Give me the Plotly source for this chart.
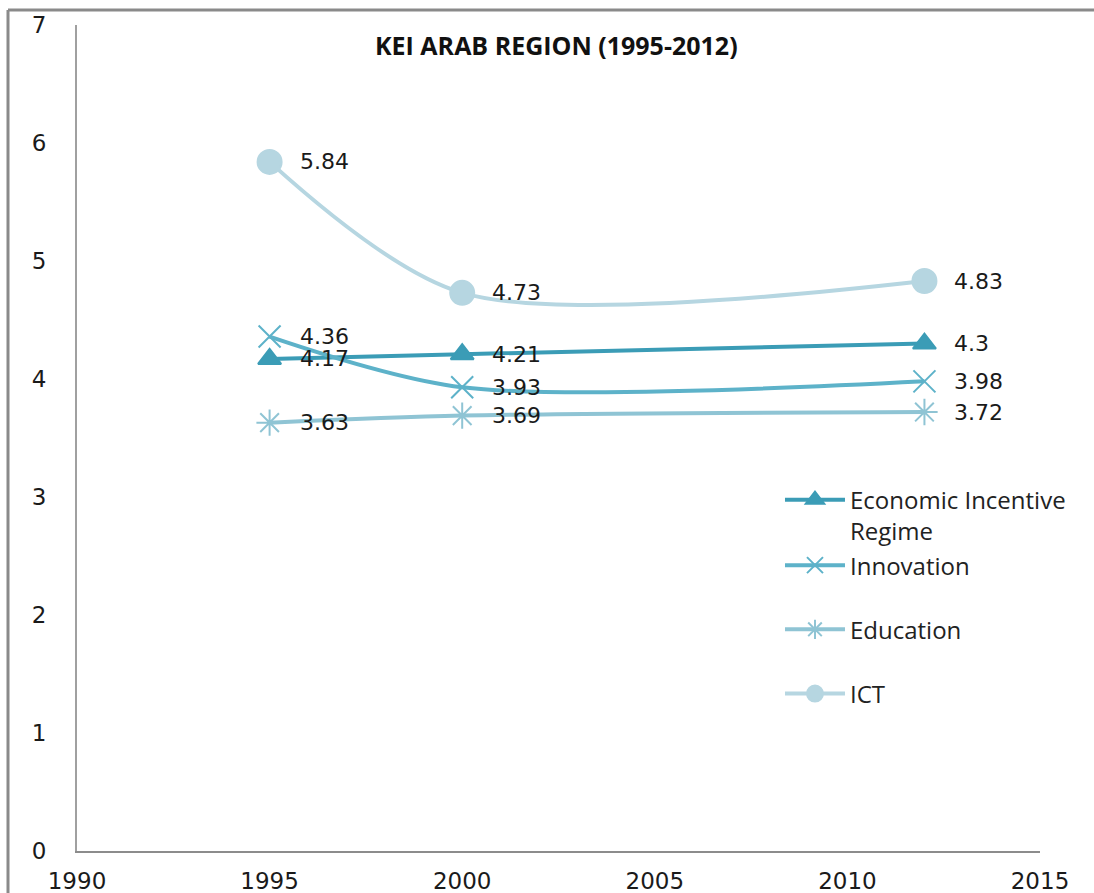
import plotly.graph_objects as go

# KEI sub-index scores for the Arab region
years = [1995, 2000, 2012]
economic_incentive = [4.17, 4.21, 4.30]
innovation = [4.36, 3.93, 3.98]
education = [3.63, 3.69, 3.72]
ict = [5.84, 4.73, 4.83]

series_names = ["Economic Incentive<br>Regime", "Innovation", "Education", "ICT"]
series_values = [economic_incentive, innovation, education, ict]
colors = ["#3b9cb6", "#5db2c9", "#8fc4d4", "#b6d6e1"]
symbols = ["triangle-up", "x-thin-open", "asterisk-open", "circle"]
marker_sizes = [20, 22, 22, 24]
legend_groups = ["a", "a", "b", "c"]

x_ticks = [1990, 1995, 2000, 2005, 2010, 2015]
y_ticks = [0, 1, 2, 3, 4, 5, 6, 7]

fig = go.Figure()
for i, (name, vals) in enumerate(zip(series_names, series_values)):
    fig.add_trace(go.Scatter(
        x=years, y=vals, name=name, mode="lines+markers",
        line=dict(color=colors[i], width=4, shape="spline", smoothing=0.85),
        marker=dict(symbol=symbols[i], size=marker_sizes[i], color=colors[i],
                    line=dict(color=colors[i], width=2)),
        legendgroup=legend_groups[i],
    ))

# value labels to the right of each point
annotations = []
for vals in series_values:
    for x, v in zip(years, vals):
        annotations.append(dict(
            x=x, y=v, xref="x", yref="y", text=f"{v:g}", showarrow=False,
            xanchor="left", yanchor="middle", xshift=28,
            font=dict(family="DejaVu Sans", size=22, color="#1a1a1a"),
        ))

annotations.append(dict(
    x=0.498, y=(851 - 45) / 826, xref="paper", yref="paper",
    text="<b>KEI ARAB REGION (1995-2012)</b>",
    showarrow=False, xanchor="center", yanchor="middle",
    font=dict(family="Open Sans", size=25, color="#111111"),
))

fig.update_layout(
    width=1094, height=893,
    margin=dict(l=77, r=54, t=25, b=42),
    paper_bgcolor="white", plot_bgcolor="white",
    showlegend=True,
    legend=dict(
        x=0.73, y=0.452, xanchor="left", yanchor="top", valign="top",
        font=dict(family="Open Sans", size=24, color="#222222"),
        tracegroupgap=30, itemwidth=60, bgcolor="rgba(0,0,0,0)",
    ),
    annotations=annotations,
    shapes=[
        dict(type="line", xref="paper", yref="paper",
             x0=(8 - 77) / 963, x1=(1094 - 77) / 963,
             y0=(851 - 10) / 826, y1=(851 - 10) / 826,
             line=dict(color="#8a8a8a", width=3)),
        dict(type="line", xref="paper", yref="paper",
             x0=(8 - 77) / 963, x1=(8 - 77) / 963,
             y0=(851 - 10) / 826, y1=(851 - 900) / 826,
             line=dict(color="#8a8a8a", width=3)),
    ],
)
fig.update_xaxes(
    range=[1990, 2015], tickvals=x_ticks, ticktext=[str(t) for t in x_ticks],
    showgrid=False, zeroline=False, showline=True, linecolor="#8c8c8c", linewidth=2,
    ticks="", ticklabelstandoff=8, automargin=False,
    tickfont=dict(family="DejaVu Sans", size=23, color="#1a1a1a"),
)
fig.update_yaxes(
    range=[0, 7], tickvals=y_ticks, ticktext=[str(t) for t in y_ticks],
    showgrid=False, zeroline=False, showline=True, linecolor="#a0a0a0", linewidth=2,
    ticks="", ticklabelstandoff=24, automargin=False,
    tickfont=dict(family="DejaVu Sans", size=23, color="#1a1a1a"),
)

fig.write_html("out.html")
